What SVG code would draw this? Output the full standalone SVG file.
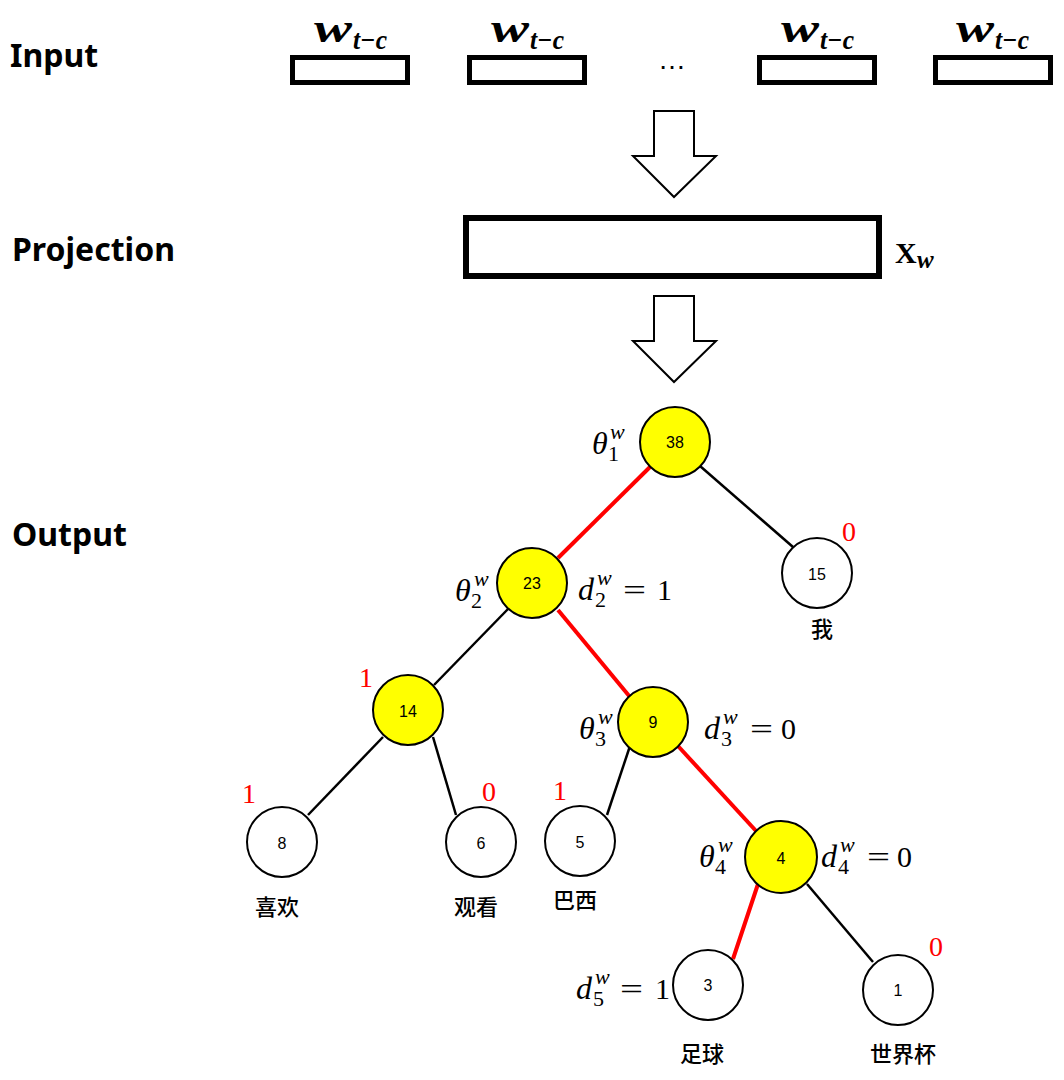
<svg xmlns="http://www.w3.org/2000/svg" width="1064" height="1080" viewBox="0 0 1064 1080">
<style>
.lbl{font-family:"Noto Sans","Liberation Sans",sans-serif;font-weight:bold;font-size:32px;fill:#000}
.box{fill:#fff;stroke:#000;stroke-width:5}
.arrow{fill:#fff;stroke:#000;stroke-width:2}
.wb{font-family:"Liberation Serif",serif;font-style:italic;font-weight:bold;fill:#000}
.m{font-family:"Liberation Serif",serif;font-style:italic;font-size:32px;fill:#000}
.ms{font-family:"Liberation Serif",serif;font-style:italic;font-size:22px;fill:#000}
.md{font-family:"Liberation Serif",serif;font-size:22px;fill:#000}
.mu{font-family:"Liberation Serif",serif;font-size:30px;fill:#000}
.red{font-family:"Liberation Serif",serif;font-size:28px;fill:#ff0000}
.cn{font-family:"Noto Sans CJK SC",sans-serif;font-weight:500;font-size:22px;fill:#000;text-anchor:middle}
.num{font-family:"Liberation Sans",sans-serif;font-size:16px;fill:#000;text-anchor:middle}
.y{fill:#ffff00;stroke:#000;stroke-width:2}
.w{fill:#fff;stroke:#000;stroke-width:2}
.eb{stroke:#000;stroke-width:2.5;fill:none}
.er{stroke:#ff0000;stroke-width:4;fill:none}
</style>
<rect width="1064" height="1080" fill="#fff"/>
<g id="labels">
<text class="lbl" x="10" y="67">Input</text>
<text class="lbl" x="12" y="261">Projection</text>
<text class="lbl" x="12" y="546">Output</text>
</g>
<g id="input">
<rect class="box" x="292.5" y="57.5" width="115" height="25"/>
<rect class="box" x="469.5" y="57.5" width="115" height="25"/>
<rect class="box" x="759.5" y="57.5" width="115" height="25"/>
<rect class="box" x="935.5" y="57.5" width="115" height="25"/>
<text class="wb" x="314" y="42" font-size="40" textLength="38" lengthAdjust="spacingAndGlyphs">w</text>
<text class="wb" x="353" y="49" font-size="28" textLength="34" lengthAdjust="spacingAndGlyphs">t−c</text>
<text class="wb" x="491" y="42" font-size="40" textLength="38" lengthAdjust="spacingAndGlyphs">w</text>
<text class="wb" x="530" y="49" font-size="28" textLength="34" lengthAdjust="spacingAndGlyphs">t−c</text>
<text class="wb" x="781" y="42" font-size="40" textLength="38" lengthAdjust="spacingAndGlyphs">w</text>
<text class="wb" x="820" y="49" font-size="28" textLength="34" lengthAdjust="spacingAndGlyphs">t−c</text>
<text class="wb" x="956" y="42" font-size="40" textLength="38" lengthAdjust="spacingAndGlyphs">w</text>
<text class="wb" x="995" y="49" font-size="28" textLength="34" lengthAdjust="spacingAndGlyphs">t−c</text>
<text x="672" y="69" font-family="Liberation Sans,sans-serif" font-size="28" text-anchor="middle">…</text>
</g>
<g id="arrow1"><polygon class="arrow" points="654,111 694,111 694,156 716,156 674,197 633,156 654,156"/></g>
<g id="projection">
<rect x="466" y="218" width="413" height="58" fill="#fff" stroke="#000" stroke-width="6"/>
<text x="895" y="263" font-family="Liberation Serif,serif" font-weight="bold" font-size="30">X</text>
<text class="wb" x="917" y="268" font-size="25">w</text>
</g>
<g id="arrow2"><polygon class="arrow" points="654,296 694,296 694,341 716,341 674,382 633,341 654,341"/></g>
<g id="connectors">
<line class="er" x1="650" y1="467" x2="558" y2="558"/>
<line class="eb" x1="700" y1="466" x2="793" y2="547"/>
<line class="eb" x1="508" y1="609" x2="434" y2="685"/>
<line class="er" x1="558" y1="610" x2="630" y2="697"/>
<line class="eb" x1="383" y1="737" x2="308" y2="815"/>
<line class="eb" x1="433" y1="737" x2="456" y2="815"/>
<line class="eb" x1="630" y1="746" x2="607" y2="815"/>
<line class="er" x1="678" y1="746" x2="757" y2="832"/>
<line class="er" x1="758" y1="884" x2="733" y2="959"/>
<line class="eb" x1="807" y1="884" x2="873" y2="962"/>
</g>
<g id="n38"><circle class="y" cx="675" cy="442" r="35"/><text class="num" x="675" y="448">38</text></g>
<g id="n23"><circle class="y" cx="532" cy="583" r="35"/><text class="num" x="532" y="589">23</text></g>
<g id="n15"><circle class="w" cx="817" cy="573" r="35"/><text class="num" x="817" y="580">15</text><text class="cn" x="822" y="637">我</text></g>
<g id="n14"><circle class="y" cx="408" cy="710" r="35"/><text class="num" x="408" y="717">14</text></g>
<g id="n9"><circle class="y" cx="653" cy="722" r="35"/><text class="num" x="653" y="728">9</text></g>
<g id="n8"><circle class="w" cx="282" cy="842" r="35"/><text class="num" x="282" y="849">8</text><text class="cn" x="277" y="915">喜欢</text></g>
<g id="n6"><circle class="w" cx="481" cy="842" r="35"/><text class="num" x="481" y="849">6</text><text class="cn" x="476" y="915">观看</text></g>
<g id="n5"><circle class="w" cx="580" cy="841" r="35"/><text class="num" x="580" y="848">5</text><text class="cn" x="575" y="908">巴西</text></g>
<g id="n4"><circle class="y" cx="781" cy="857" r="36"/><text class="num" x="781" y="864">4</text></g>
<g id="n3"><circle class="w" cx="708" cy="985" r="35"/><text class="num" x="708" y="991">3</text><text class="cn" x="702" y="1062">足球</text></g>
<g id="n1"><circle class="w" cx="898" cy="990" r="35"/><text class="num" x="898" y="996">1</text><text class="cn" x="903" y="1062">世界杯</text></g>
<g id="math">
<text class="m" x="592" y="454">θ</text><text class="md" x="608" y="461">1</text><text class="ms" x="610" y="439">w</text>
<text class="m" x="455" y="601">θ</text><text class="md" x="471" y="608">2</text><text class="ms" x="474" y="586">w</text>
<text class="m" x="578" y="600">d</text><text class="md" x="595" y="607">2</text><text class="ms" x="597" y="585">w</text><text class="mu" x="623" y="600" textLength="23" lengthAdjust="spacingAndGlyphs">=</text><text class="mu" x="657" y="600">1</text>
<text class="m" x="579" y="739">θ</text><text class="md" x="595" y="746">3</text><text class="ms" x="598" y="724">w</text>
<text class="m" x="704" y="739">d</text><text class="md" x="721" y="746">3</text><text class="ms" x="723" y="724">w</text><text class="mu" x="750" y="739" textLength="23" lengthAdjust="spacingAndGlyphs">=</text><text class="mu" x="781" y="739">0</text>
<text class="m" x="699" y="867">θ</text><text class="md" x="715" y="874">4</text><text class="ms" x="718" y="852">w</text>
<text class="m" x="821" y="867">d</text><text class="md" x="838" y="874">4</text><text class="ms" x="840" y="852">w</text><text class="mu" x="867" y="867" textLength="23" lengthAdjust="spacingAndGlyphs">=</text><text class="mu" x="897" y="867">0</text>
<text class="m" x="576" y="999">d</text><text class="md" x="593" y="1006">5</text><text class="ms" x="595" y="984">w</text><text class="mu" x="620" y="999" textLength="23" lengthAdjust="spacingAndGlyphs">=</text><text class="mu" x="655" y="999">1</text>
</g>
<g id="codes">
<text class="red" x="842" y="541">0</text>
<text class="red" x="359" y="687">1</text>
<text class="red" x="242" y="803">1</text>
<text class="red" x="482" y="801">0</text>
<text class="red" x="553" y="800">1</text>
<text class="red" x="929" y="956">0</text>
</g>
</svg>
